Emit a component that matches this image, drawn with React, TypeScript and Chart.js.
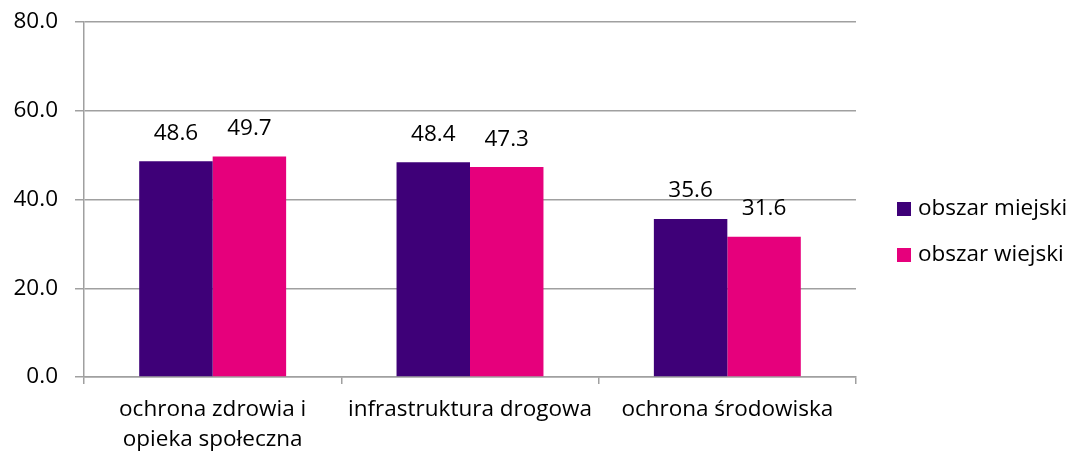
import React, { useEffect, useRef } from "react";
import { Chart, registerables } from "chart.js";

Chart.register(...registerables);

const categories: (string | string[])[] = [
  ["ochrona zdrowia i", "opieka społeczna"],
  "infrastruktura drogowa",
  "ochrona środowiska",
];
const seriesNames = ["obszar miejski", "obszar wiejski"];
const urbanValues = [48.6, 48.4, 35.6];
const ruralValues = [49.7, 47.3, 31.6];
const seriesColors = ["#3E0078", "#E6007C"];
const yTicks = [0, 20, 40, 60, 80];

const FONT = "'Open Sans', sans-serif";
const FONT_SIZE = 22.5;

const valueLabelPlugin = {
  id: "valueLabels",
  afterDatasetsDraw(chart: any) {
    const ctx = chart.ctx;
    ctx.save();
    ctx.font = `${FONT_SIZE}px ${FONT}`;
    ctx.fillStyle = "#000";
    ctx.textAlign = "center";
    ctx.textBaseline = "middle";
    chart.data.datasets.forEach((ds: any, i: number) => {
      const meta = chart.getDatasetMeta(i);
      meta.data.forEach((bar: any, j: number) => {
        ctx.fillText(Number(ds.data[j]).toFixed(1), bar.x, bar.y - 28);
      });
    });
    ctx.restore();
  },
};

const legendPlugin = {
  id: "customLegend",
  afterDraw(chart: any) {
    const ctx = chart.ctx;
    const area = chart.chartArea;
    ctx.save();
    ctx.font = `${FONT_SIZE}px ${FONT}`;
    ctx.textBaseline = "middle";
    ctx.textAlign = "left";
    chart.data.datasets.forEach((ds: any, i: number) => {
      const cy = area.top + 187 + i * 46;
      const x = area.right + 41;
      ctx.fillStyle = ds.backgroundColor;
      ctx.fillRect(x, cy - 7, 14, 14);
      ctx.fillStyle = "#000";
      ctx.fillText(ds.label, x + 21, cy);
    });
    ctx.restore();
  },
};

export default function App() {
  const ref = useRef<HTMLCanvasElement | null>(null);
  useEffect(() => {
    if (!ref.current) return;
    const chart = new Chart(ref.current, {
      type: "bar",
      data: {
        labels: categories,
        datasets: [
          {
            label: seriesNames[0],
            data: urbanValues,
            backgroundColor: seriesColors[0],
            categoryPercentage: 0.571,
            barPercentage: 1,
          },
          {
            label: seriesNames[1],
            data: ruralValues,
            backgroundColor: seriesColors[1],
            categoryPercentage: 0.571,
            barPercentage: 1,
          },
        ],
      },
      options: {
        animation: false,
        responsive: false,
        layout: { padding: { top: 22, right: 219, left: 0, bottom: 0 } },
        plugins: {
          legend: { display: false },
          tooltip: { enabled: false },
        },
        scales: {
          x: {
            grid: {
              offset: true,
              drawOnChartArea: false,
              drawTicks: true,
              tickLength: 7,
              color: "#A0A0A0",
              lineWidth: 1.5,
            },
            border: { color: "#A0A0A0", width: 1.5 },
            ticks: {
              color: "#000",
              font: { family: FONT, size: FONT_SIZE, lineHeight: 1.33 },
              padding: 11,
              maxRotation: 0,
              autoSkip: false,
            },
            afterFit(scale: any) {
              scale.height = 78;
              scale.paddingLeft = 0;
              scale.paddingRight = 0;
            },
          },
          y: {
            min: 0,
            max: 80,
            afterBuildTicks(scale: any) {
              scale.ticks = yTicks.map((v) => ({ value: v }));
            },
            grid: {
              color: "#A0A0A0",
              lineWidth: 1.5,
              tickLength: 9,
            },
            border: { color: "#A0A0A0", width: 1.5 },
            ticks: {
              color: "#000",
              font: { family: FONT, size: FONT_SIZE },
              padding: 17,
              callback: (v: any) => Number(v).toFixed(1),
            },
            afterFit(scale: any) {
              scale.width = 84;
              scale.paddingTop = 0;
              scale.paddingBottom = 0;
            },
          },
        },
      },
      plugins: [valueLabelPlugin, legendPlugin],
    });
    return () => chart.destroy();
  }, []);
  return (
    <div style={{ position: "fixed", left: 0, top: 0, width: 1075, height: 455, background: "#fff" }}>
      <canvas ref={ref} width={1075} height={455} style={{ display: "block" }} />
    </div>
  );
}
